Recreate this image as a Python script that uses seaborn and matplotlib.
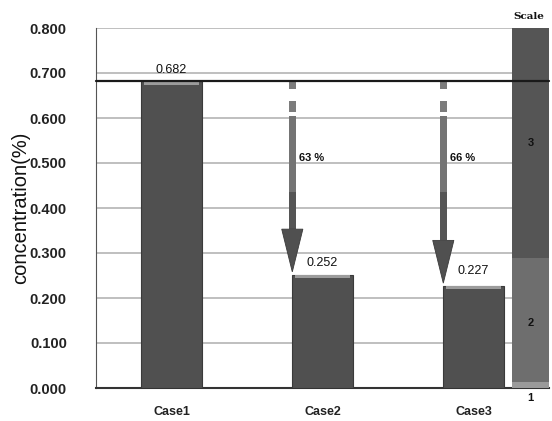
import matplotlib
matplotlib.use("Agg")
import matplotlib.pyplot as plt
import seaborn as sns
import pandas as pd
from matplotlib.patches import Polygon, Rectangle

cases = ["Case1", "Case2", "Case3"]
values = [0.682, 0.252, 0.227]
reduction_labels = ["63 %", "66 %"]
scale_levels = [0.0, 0.013, 0.290, 0.800]
scale_labels = ["1", "2", "3"]
yticks = [0.0, 0.1, 0.2, 0.3, 0.4, 0.5, 0.6, 0.7, 0.8]

df = pd.DataFrame({"case": cases, "value": values})

sns.set_style("white")
plt.rcParams["font.family"] = ["Liberation Sans", "DejaVu Sans"]

fig = plt.figure(figsize=(5.52, 4.21), dpi=100)
ax = fig.add_axes([96 / 552, 33 / 421, 453 / 552, 360 / 421])

bar_w = 0.40
sns.barplot(data=df, x="case", y="value", color="#505050", width=bar_w,
            saturation=1, edgecolor="#3a3a3a", linewidth=0.8, ax=ax, zorder=3)

# light bevel along each bar top
for i, v in enumerate(values):
    ax.add_patch(Rectangle((i - bar_w / 2 + 0.02, v - 0.008), bar_w - 0.04, 0.008,
                           facecolor="#9c9c9c", edgecolor="none", zorder=4))

ax.set_xlim(-0.5, 2.5)
ax.set_ylim(0, 0.8)
ax.set_yticks(yticks)
ax.set_yticklabels([f"{t:.3f}" for t in yticks], fontsize=10.5, fontweight="bold",
                   color="#222222")
ax.set_xticks(range(len(cases)))
ax.set_xticklabels(cases, fontsize=9, fontweight="bold", color="#222222")
ax.set_xlabel("")
ax.set_ylabel("concentration(%)", fontsize=14.5, color="#111111", labelpad=0)

ax.yaxis.grid(True, color="#b4b4b4", linewidth=1.2, zorder=0)
ax.set_axisbelow(True)
for side in ["top", "right"]:
    ax.spines[side].set_visible(False)
ax.spines["left"].set_color("#555555")
ax.spines["bottom"].set_color("#333333")
ax.spines["bottom"].set_linewidth(1.5)
ax.tick_params(axis="y", which="major", direction="out", length=4, width=1,
               color="#777777", pad=17)
ax.tick_params(axis="x", length=0, pad=13)

# reference level from Case1
ax.axhline(values[0], xmin=0, xmax=1.0, color="#1a1a1a", linewidth=1.6,
           zorder=6, clip_on=False)

# value labels
label_offsets = [0.012, 0.012, 0.02]
for i, v in enumerate(values):
    ax.text(i, v + label_offsets[i], f"{v:.3f}", ha="center", va="bottom",
            fontsize=9, color="#111111", zorder=7)

# reduction arrows
def draw_arrow(x, y_top, y_tip, label):
    hw = 0.07
    sw = 0.022
    head_len = 0.095
    # dashed start
    for a, b in [(y_top - 0.002, y_top - 0.018), (y_top - 0.044, y_top - 0.068)]:
        ax.add_patch(Rectangle((x - sw, b), 2 * sw, a - b,
                               facecolor="#7c7c7c", edgecolor="none", zorder=5))
    shaft_top = y_top - 0.078
    shaft_mid = 0.435
    head_base = y_tip + head_len
    ax.add_patch(Rectangle((x - sw, shaft_mid), 2 * sw, shaft_top - shaft_mid,
                           facecolor="#747474", edgecolor="none", zorder=5))
    ax.add_patch(Rectangle((x - sw, head_base), 2 * sw, shaft_mid - head_base,
                           facecolor="#555555", edgecolor="none", zorder=5))
    ax.add_patch(Polygon([(x - hw, head_base), (x + hw, head_base), (x, y_tip)],
                         closed=True, facecolor="#505050", edgecolor="#3a3a3a",
                         lw=0.6, zorder=5))
    ax.text(x + 0.045, 0.512, label, ha="left", va="center", fontsize=8,
            fontweight="bold", color="#111111", zorder=7)

for i in (1, 2):
    draw_arrow(i - bar_w / 2, values[0], values[i] + 0.006,
               reduction_labels[i - 1])

# scale column at the right edge
sx0 = 2.255
sx1 = 2.5
scale_colors = ["#9a9a9a", "#6e6e6e", "#555555"]
for k in range(3):
    ax.add_patch(Rectangle((sx0, scale_levels[k]), sx1 - sx0,
                           scale_levels[k + 1] - scale_levels[k],
                           facecolor=scale_colors[k], edgecolor="none",
                           zorder=4, clip_on=False))
ax.text((sx0 + sx1) / 2, -0.012, scale_labels[0], ha="center", va="top",
        fontsize=8, fontweight="bold", color="#111111")
ax.text((sx0 + sx1) / 2, 0.145, scale_labels[1], ha="center", va="center",
        fontsize=8, fontweight="bold", color="#111111", zorder=7)
ax.text((sx0 + sx1) / 2, 0.545, scale_labels[2], ha="center", va="center",
        fontsize=8, fontweight="bold", color="#111111", zorder=7)
ax.text((sx0 + sx1) / 2 - 0.01, 0.825, "Scale", ha="center", va="center",
        fontsize=7.5, fontweight="bold", color="#111111", family="DejaVu Serif")

fig.savefig("out.png", dpi=100)
